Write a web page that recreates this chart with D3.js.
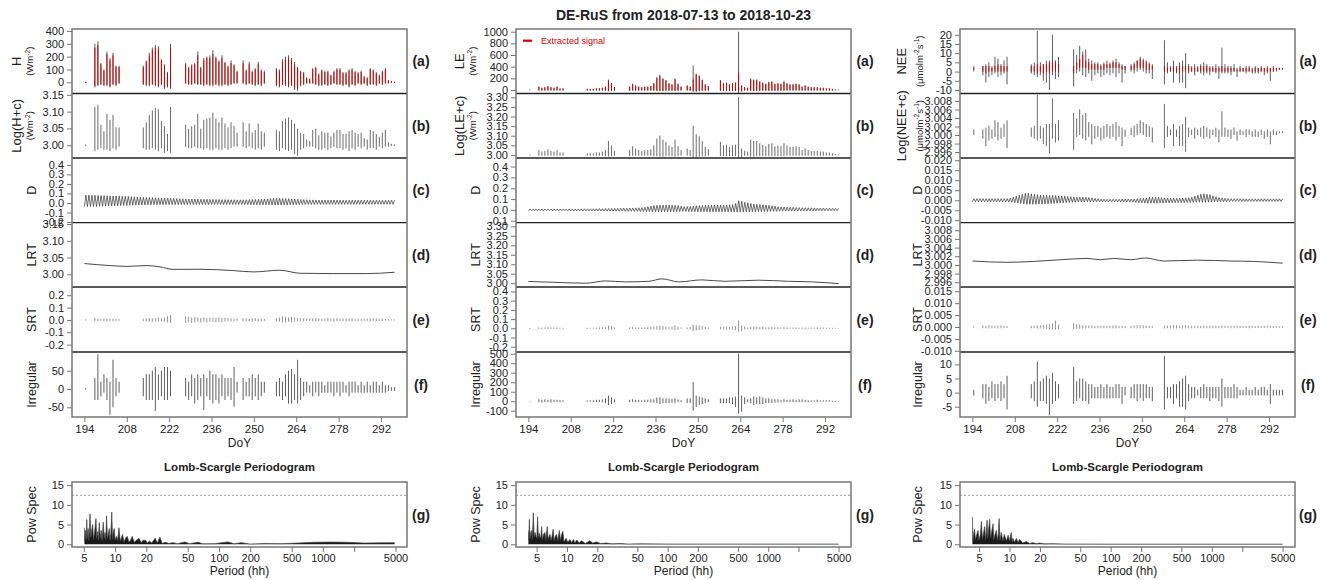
<!DOCTYPE html>
<html><head><meta charset="utf-8">
<script src="https://cdn.jsdelivr.net/npm/d3@7"></script>
<style>body{margin:0;background:#fff}svg{display:block}text{font-family:"Liberation Sans",Arial,sans-serif;fill:#222}</style>
</head><body>
<svg id="c" width="1320" height="580"></svg>
<script>
// ---------------- DATA ----------------
const dataDays=[194,
197,198,199,200,201,202,203,204,205,
213,214,215,216,217,218,219,220,221,222,
227,228,229,230,231,232,233,234,235,236,237,238,239,240,241,242,243,244,
246,247,248,249,250,251,252,253,
257,258,259,260,261,262,263,264,265,266,267,268,269,270,271,272,273,274,275,276,
277,278,279,280,281,282,283,284,285,286,287,288,289,290,291,292,293,294,295,296];
const allDays=[194,195,196,197,198,199,200,201,202,203,204,205,206,207,208,209,210,211,212,213,
214,215,216,217,218,219,220,221,222,223,224,225,226,227,228,229,230,231,232,233,
234,235,236,237,238,239,240,241,242,243,244,245,246,247,248,249,250,251,252,253,
254,255,256,257,258,259,260,261,262,263,264,265,266,267,268,269,270,271,272,273,
274,275,276,277,278,279,280,281,282,283,284,285,286,287,288,289,290,291,292,293,294,295,296];
const timeRange=[194,296.5];
const doyTicks=[194,208,222,236,250,264,278,292];
const periodTicks=[5,10,20,50,100,200,500,1000,2000,5000];
const periodLabels=["5","10","20","50","100","200","500","1000","","5000"];
const powTicks=[0,5,10,15];
const sigLevel=12.4;

// ---- H (left) ----
const H_hi=[5,
300,320,150,100,240,190,230,130,130,
130,170,230,270,290,280,180,140,80,300,
150,120,140,150,240,120,190,200,210,250,200,170,210,160,130,170,140,90,
170,100,160,90,110,160,100,90,
110,100,180,200,210,190,160,120,90,80,40,30,110,120,70,100,90,90,60,90,
110,110,80,80,100,110,90,80,90,50,40,110,100,80,60,90,110,20,10,5];
const H_lo=[-5,
-40,-30,-20,-30,-30,-40,-20,-30,-10,
-20,-30,-30,-20,-30,-40,-20,-50,-40,-50,
-10,-20,-20,-10,-20,-20,-30,-20,-30,-30,-20,-30,-30,-20,-30,-20,-10,-10,
-10,-20,-10,-20,-30,-20,-30,-10,
-30,-40,-20,-30,-40,-30,-60,-70,-30,-20,-10,-10,-10,-20,-30,-30,-20,-30,-20,-10,
-20,-20,-30,-20,-40,-20,-30,-10,-20,-10,-30,-20,-20,-30,-10,-20,-10,-10,-5,-5];
const H_sigHi=[4,
270,290,140,90,220,170,210,120,120,
120,160,210,250,270,260,170,130,70,270,
140,110,130,140,210,110,170,190,190,220,190,160,190,150,120,150,130,80,
150,90,140,80,100,140,90,80,
100,90,160,180,190,170,140,110,80,70,30,25,100,110,60,90,80,80,50,80,
100,100,70,70,90,100,80,70,80,40,30,100,90,70,50,80,100,15,8,4];
const H_sigLo=[-4,
-30,-20,-15,-20,-20,-30,-15,-20,-8,
-15,-20,-20,-15,-20,-30,-15,-40,-30,-40,
-8,-15,-15,-8,-15,-15,-20,-15,-20,-20,-15,-20,-20,-15,-20,-15,-8,-8,
-8,-15,-8,-15,-20,-15,-20,-8,
-20,-30,-15,-20,-30,-20,-40,-50,-20,-15,-8,-8,-8,-15,-20,-20,-15,-20,-15,-8,
-15,-15,-20,-15,-30,-15,-20,-8,-15,-8,-20,-15,-15,-20,-8,-15,-8,-8,-4,-4];
const H_irrHi=[2,
30,95,20,40,30,20,80,30,20,
30,40,40,50,60,40,50,60,60,50,
30,20,40,30,40,30,40,30,50,40,40,30,40,30,30,30,60,20,
30,20,30,40,30,40,20,20,
20,30,20,40,50,55,40,80,30,20,20,10,20,20,20,20,10,20,20,20,
20,20,20,10,20,20,20,10,20,10,20,10,20,20,10,20,10,10,5,5];
const H_irrLo=[-2,
-30,-30,-20,-10,-30,-70,-50,-20,-10,
-20,-30,-30,-30,-60,-30,-20,-30,-30,-20,
-20,-30,-20,-40,-30,-20,-57,-20,-30,-40,-30,-40,-20,-30,-20,-30,-48,-10,
-30,-20,-20,-30,-20,-30,-20,-10,
-20,-20,-30,-20,-40,-40,-30,-40,-30,-20,-10,-10,-20,-10,-20,-10,-10,-10,-10,-20,
-10,-20,-10,-10,-20,-10,-10,-10,-10,-10,-10,-10,-10,-10,-10,-10,-10,-5,-5,-5];
const H_srtHi=[.005,
.015,.010,.010,.012,.010,.008,.010,.008,.006,
.010,.012,.015,.012,.015,.020,.015,.020,.030,.038,
.030,.025,.020,.025,.020,.015,.020,.015,.018,.020,.015,.020,.015,.018,.015,.012,.010,.010,
.012,.015,.010,.012,.015,.010,.010,.008,
.015,.020,.030,.025,.020,.025,.020,.015,.015,.012,.010,.010,.012,.015,.012,.010,.012,.015,.010,.012,
.015,.010,.012,.010,.012,.015,.010,.012,.010,.008,.010,.012,.010,.012,.010,.012,.008,.006,.005,.004];
const H_srtLo=[-.005,
-.012,-.010,-.008,-.010,-.012,-.008,-.010,-.008,-.006,
-.010,-.010,-.012,-.015,-.012,-.015,-.012,-.015,-.020,-.025,
-.025,-.020,-.025,-.020,-.015,-.020,-.015,-.020,-.015,-.015,-.020,-.015,-.020,-.015,-.012,-.015,-.010,-.008,
-.010,-.012,-.010,-.015,-.010,-.012,-.010,-.008,
-.012,-.015,-.020,-.020,-.015,-.020,-.015,-.012,-.012,-.010,-.008,-.008,-.010,-.012,-.010,-.010,-.012,-.010,-.010,-.012,
-.010,-.008,-.010,-.010,-.010,-.012,-.010,-.010,-.008,-.008,-.008,-.010,-.008,-.010,-.008,-.010,-.006,-.005,-.004,-.004];
const H_dHi=[.083,.082,.081,.080,.079,.078,.077,.076,.075,.074,
.073,.072,.071,.070,.069,.067,.065,.063,.061,.059,
.058,.057,.056,.055,.054,.053,.052,.051,.050,.048,
.046,.045,.044,.043,.042,.041,.040,.040,.039,.038,
.038,.037,.037,.036,.036,.035,.035,.034,.034,.034,
.033,.033,.033,.034,.035,.036,.037,.038,.040,.042,
.044,.046,.047,.048,.048,.047,.046,.045,.043,.041,
.039,.037,.035,.034,.033,.032,.032,.031,.031,.031,
.031,.031,.031,.031,.030,.030,.030,.030,.030,.030,
.030,.030,.030,.030,.030,.030,.030,.030,.030,.030,.030,.030,.030];
const H_dLo=[-.038,-.038,-.037,-.037,-.036,-.035,-.034,-.033,-.032,-.031,
-.030,-.029,-.028,-.027,-.026,-.025,-.024,-.023,-.022,-.021,
-.020,-.019,-.019,-.018,-.018,-.018,-.017,-.017,-.017,-.017,
-.017,-.017,-.017,-.017,-.017,-.017,-.017,-.017,-.017,-.017,
-.017,-.017,-.016,-.016,-.016,-.016,-.016,-.016,-.016,-.016,
-.016,-.016,-.016,-.017,-.017,-.018,-.018,-.019,-.019,-.020,
-.020,-.020,-.021,-.021,-.021,-.021,-.020,-.020,-.019,-.019,
-.018,-.018,-.017,-.017,-.016,-.016,-.016,-.015,-.015,-.015,
-.015,-.015,-.015,-.015,-.015,-.015,-.015,-.015,-.015,-.015,
-.014,-.014,-.014,-.014,-.014,-.014,-.014,-.014,-.014,-.014,-.014,-.014,-.014];
const H_lrtDays=[194,202.5,208,214.6,219,223.4,232.2,243.2,249.8,258.6,265.3,276.3,287.3,296.5];
const H_lrt=[3.032,3.026,3.0235,3.026,3.022,3.0147,3.015,3.011,3.007,3.012,3.003,3.002,3.002,3.006];
const H_pgPeriod=[5.07,5.12,5.2,5.28,5.34,5.42,5.5,5.6,5.74,5.85,5.95,6.09,6.2,6.35,6.55,6.65,6.8,6.9,7.05,7.2,
7.35,7.5,7.7,7.85,8.0,8.15,8.28,8.45,8.6,8.8,8.95,9.1,9.3,9.45,9.6,9.8,10.0,10.3,10.6,10.9,
11.2,11.5,11.8,12.2,12.6,13.1,13.6,14.1,14.6,15.3,16.0,17.0,17.8,18.6,19.6,20.5,21.5,22.5,24.3,25.5,
27.0,28.5,30.4,33,36,40,47,52,63,70,90,122,140,164,200,272,400,570,820,1200,1700,2500,3540,4900];
const H_pgPow=[4.2,0.8,3.5,1.2,6.3,1.5,4.0,1.0,7.7,1.8,3.5,5.0,1.2,3.0,6.5,1.5,3.2,1.0,5.5,1.5,
3.5,1.0,5.6,1.6,3.0,1.2,7.2,1.5,2.5,4.0,1.0,2.5,8.2,1.2,3.0,4.0,1.0,2.0,1.0,4.2,
0.8,1.6,2.5,0.6,1.5,2.0,0.6,1.0,2.0,0.5,1.0,1.5,0.4,1.0,1.0,0.3,0.8,0.3,1.5,0.3,
1.8,0.2,0.5,0.2,0.4,0.15,0.6,0.15,0.5,0.1,0.15,0.6,0.1,0.4,0.05,0.2,0.15,0.3,0.5,0.55,0.5,0.3,0.35,0.4];

// ---- LE (middle) ----
const LE_hi=[5,
60,40,50,70,50,40,60,30,30,
20,20,20,30,30,40,60,180,120,50,
60,110,80,60,50,60,60,70,120,220,260,200,170,120,100,200,110,60,
80,60,420,280,250,180,100,70,
170,120,130,100,120,130,1000,80,50,40,200,180,180,150,130,110,140,150,110,120,
110,150,120,100,100,110,100,60,80,60,50,50,50,40,40,30,30,20,10,5];
const LE_lo=[-5,
-10,-10,-10,-10,-10,-10,-10,-10,-10,
-10,-10,-10,-10,-10,-10,-15,-20,-15,-10,
-15,-10,-10,-10,-10,-10,-10,-10,-15,-15,-20,-20,-15,-15,-15,-20,-15,-10,
-10,-15,-30,-30,-20,-15,-15,-10,
-15,-15,-15,-15,-15,-15,-60,-30,-10,-10,-20,-20,-15,-15,-15,-15,-15,-15,-15,-15,
-15,-15,-10,-10,-10,-10,-10,-10,-10,-10,-10,-10,-10,-10,-10,-10,-10,-10,-5,-5];
const LE_sigHi=[4,
55,35,45,65,45,35,55,25,25,
18,18,18,28,28,38,55,160,110,45,
55,100,75,55,45,55,55,65,110,200,240,190,160,110,90,180,100,55,
75,55,180,270,240,170,90,65,
160,110,120,90,110,120,300,75,45,35,180,170,170,140,120,100,130,140,100,110,
100,140,110,90,90,100,90,55,75,55,45,45,45,35,35,25,25,18,8,4];
const LE_sigLo=[-4,
-8,-8,-8,-8,-8,-8,-8,-8,-8,
-8,-8,-8,-8,-8,-8,-10,-15,-10,-8,
-10,-8,-8,-8,-8,-8,-8,-8,-10,-10,-15,-15,-10,-10,-10,-15,-10,-8,
-8,-10,-20,-20,-15,-10,-10,-8,
-10,-10,-10,-10,-10,-10,-30,-20,-8,-8,-15,-15,-10,-10,-10,-10,-10,-10,-10,-10,
-10,-10,-8,-8,-8,-8,-8,-8,-8,-8,-8,-8,-8,-8,-8,-8,-8,-8,-4,-4];
const LE_irrHi=[2,
20,15,20,15,20,15,15,10,10,
10,10,10,15,15,20,30,60,40,20,
15,20,15,15,10,15,15,20,20,40,40,30,30,30,25,30,20,10,
30,30,200,60,50,40,30,20,
30,30,30,40,40,50,500,60,40,20,30,50,40,50,40,30,30,20,20,20,
15,20,15,15,20,15,20,20,15,10,10,10,15,10,10,10,10,5,5,2];
const LE_irrLo=[-2,
-10,-15,-10,-10,-15,-10,-10,-10,-5,
-5,-5,-10,-10,-10,-10,-20,-40,-30,-10,
-10,-10,-10,-10,-10,-10,-10,-15,-15,-20,-30,-20,-20,-20,-15,-20,-10,-10,
-20,-20,-100,-60,-40,-30,-20,-10,
-20,-20,-20,-20,-30,-60,-130,-110,-30,-10,-20,-40,-30,-30,-30,-20,-20,-20,-15,-15,
-10,-10,-10,-10,-10,-10,-10,-10,-10,-10,-5,-5,-10,-5,-5,-5,-5,-5,-5,-2];
const LE_srtHi=[.005,
.010,.008,.010,.012,.010,.008,.010,.006,.005,
.006,.006,.008,.008,.010,.012,.015,.030,.025,.010,
.008,.012,.010,.010,.008,.010,.012,.015,.020,.025,.030,.025,.020,.015,.020,.030,.020,.010,
.010,.015,.040,.035,.030,.025,.015,.010,
.015,.015,.020,.015,.020,.025,.085,.030,.020,.010,.015,.020,.020,.015,.015,.010,.012,.015,.010,.012,
.010,.012,.010,.008,.010,.010,.008,.008,.010,.008,.008,.008,.010,.008,.008,.006,.006,.005,.004,.003];
const LE_srtLo=[-.005,
-.008,-.008,-.006,-.008,-.008,-.006,-.008,-.005,-.005,
-.005,-.005,-.006,-.006,-.008,-.008,-.010,-.020,-.015,-.008,
-.008,-.010,-.008,-.008,-.008,-.008,-.010,-.010,-.012,-.015,-.020,-.015,-.015,-.012,-.015,-.020,-.015,-.008,
-.010,-.012,-.030,-.025,-.020,-.015,-.012,-.008,
-.012,-.012,-.015,-.012,-.015,-.020,-.035,-.030,-.015,-.008,-.012,-.015,-.015,-.012,-.012,-.008,-.010,-.012,-.008,-.010,
-.008,-.010,-.008,-.006,-.008,-.008,-.006,-.006,-.008,-.006,-.006,-.006,-.008,-.006,-.006,-.005,-.005,-.004,-.003,-.003];
const LE_dHi=[.008,.008,.008,.008,.008,.008,.008,.008,.008,.008,
.008,.008,.008,.009,.009,.009,.009,.010,.010,.010,
.010,.011,.011,.012,.012,.013,.013,.014,.014,.015,
.015,.016,.016,.017,.018,.019,.020,.022,.025,.030,
.035,.040,.042,.044,.045,.045,.045,.044,.042,.040,
.035,.030,.030,.032,.035,.038,.040,.042,.043,.044,
.045,.045,.045,.045,.045,.046,.047,.050,.060,.085,
.080,.070,.065,.060,.055,.052,.050,.048,.045,.042,
.040,.035,.030,.028,.026,.025,.024,.023,.022,.021,
.020,.020,.019,.019,.018,.018,.017,.017,.016,.016,.015,.015,.015];
const LE_dLo=[-.008,-.008,-.008,-.008,-.008,-.008,-.008,-.008,-.008,-.008,
-.008,-.008,-.008,-.008,-.008,-.009,-.009,-.009,-.009,-.009,
-.009,-.010,-.010,-.010,-.010,-.010,-.011,-.011,-.011,-.012,
-.012,-.012,-.013,-.013,-.013,-.014,-.014,-.015,-.015,-.016,
-.016,-.017,-.017,-.018,-.018,-.018,-.018,-.018,-.017,-.016,
-.015,-.014,-.014,-.015,-.016,-.016,-.017,-.017,-.017,-.018,
-.018,-.018,-.018,-.018,-.018,-.018,-.018,-.018,-.019,-.020,
-.020,-.019,-.018,-.018,-.017,-.017,-.016,-.016,-.015,-.015,
-.014,-.014,-.013,-.013,-.012,-.012,-.012,-.011,-.011,-.011,
-.010,-.010,-.010,-.010,-.010,-.009,-.009,-.009,-.009,-.009,-.008,-.008,-.008];
const LE_lrtDays=[194,201.9,212.9,219.5,226.1,233.8,238.2,243.7,251.3,259,270,279.9,287.6,296.5];
const LE_lrt=[3.009,3.005,3.000,3.012,3.007,3.010,3.023,3.007,3.0175,3.010,3.016,3.010,3.007,2.998];
const LE_pgPeriod=[4.14,4.18,4.23,4.3,4.38,4.46,4.53,4.63,4.72,4.82,4.92,5.02,5.11,5.2,5.3,5.39,5.5,5.6,5.7,5.85,
6.04,6.15,6.37,6.5,6.65,6.78,6.95,7.1,7.3,7.45,7.65,7.9,8.1,8.4,8.6,8.85,9.1,9.35,9.8,10.2,
10.7,11.1,11.6,12.0,12.5,13.2,14.0,15.2,16.9,18.0,19.7,21.5,24.7,28,33.5,40,53,100,500,5000];
const LE_pgPow=[3.5,1.0,6.3,1.5,3.0,3.5,1.2,8.0,1.8,3.0,2.0,1.5,7.0,1.5,2.8,2.0,1.5,4.5,1.2,2.5,
3.0,1.0,4.5,1.2,2.0,2.5,1.0,2.0,3.8,0.8,2.0,2.5,0.8,3.5,1.0,2.5,3.3,0.6,1.5,0.5,
1.2,0.4,1.2,0.3,1.1,0.3,0.9,0.2,0.9,0.3,0.6,0.2,0.3,0.1,0.2,0.05,0.1,0.05,0.05,0.05];

// ---- NEE (right) ----
const NEE_hi=[3,
3,4,5,3,8,7,4,6,8,
4,5,22,5,4,6,6,20,6,8,
12,9,14,11,12,7,6,5,5,4,5,6,5,6,7,5,4,3,
4,5,6,8,7,6,5,4,
17,5,3,6,3,5,6,10,4,3,4,3,4,5,4,3,3,4,3,13,
4,3,3,4,2,3,2,3,3,2,3,2,3,2,3,2,3,2,2,2];
const NEE_lo=[0,
-2,-6,-3,-2,-1,-3,-2,-1,-7,
-1,-2,-3,-2,-5,-6,-10,-2,-4,-3,
-8,-1,0,-2,-3,-1,-5,-2,-1,-3,-2,-1,-2,-1,-3,-1,-6,-1,
0,-1,0,1,0,-1,-1,-4,
-7,-1,0,-6,-1,-6,-6,-9,-1,0,-2,0,-1,-2,-1,-2,0,-1,-4,-1,
-1,-1,-2,0,-3,0,0,-1,0,-1,-1,-1,0,-2,-1,-5,0,0,1,1];
const NEE_sigHi=[2,
3,3,3,2,3,4,3,3,3,
3,3,4,3,4,4,5,6,5,4,
3,5,7,9,6,5,4,4,4,3,4,4,4,5,5,4,3,3,
3,4,6,7,6,5,4,3,
3,2,2,3,2,3,3,3,3,2,2,2,3,3,3,2,2,2,2,3,
2,2,2,2,1,2,2,2,2,1,2,2,2,2,2,2,2,2,2,2];
const NEE_sigLo=[1,
0,-1,0,0,0,0,0,0,0,
0,0,-1,0,-1,0,-1,0,0,0,
-1,1,2,2,2,1,1,1,1,1,1,2,2,2,2,2,1,1,
1,1,2,2,2,1,1,1,
0,0,0,0,0,-1,0,0,0,0,0,0,0,0,0,0,0,0,0,0,
0,0,0,0,0,0,0,0,0,0,0,0,0,0,0,0,0,1,1,1];
const NEE_irrHi=[1,
3,3,2,4,3,3,4,3,6,
3,4,11,4,5,6,5,7,4,3,
9,4,5,5,4,3,3,2,2,3,2,3,2,2,3,3,2,2,
2,3,3,3,3,3,2,2,
13,2,2,3,3,4,5,6,3,2,2,1,2,3,2,2,2,2,2,5,
2,2,2,3,2,1,1,2,1,1,2,1,2,2,1,3,1,1,1,1];
const NEE_irrLo=[-1,
-2,-4,-3,-2,-3,-2,-3,-2,-6,
-2,-3,-5,-3,-3,-4,-8,-4,-3,-2,
-4,-3,-2,-3,-3,-4,-2,-2,-2,-2,-2,-2,-2,-2,-2,-2,-4,-1,
-2,-2,-3,-2,-3,-2,-2,-3,
-6,-2,-2,-4,-2,-5,-5,-6,-3,-2,-2,-1,-2,-2,-2,-3,-2,-2,-3,-5,
-2,-2,-2,-2,-2,-1,-1,-1,-1,-1,-1,-1,-1,-1,-1,-4,-1,-1,-1,-1];
const NEE_srtHi=[.0003,
.0006,.0005,.0007,.0006,.0005,.0006,.0007,.0005,.0004,
.0005,.0006,.0008,.0007,.0008,.0010,.0012,.0015,.0027,.0010,
.0016,.0012,.0010,.0008,.0007,.0006,.0006,.0005,.0006,.0005,.0006,.0005,.0006,.0007,.0008,.0006,.0005,.0004,
.0005,.0006,.0008,.0008,.0007,.0006,.0005,.0004,
.0006,.0005,.0007,.0008,.0007,.0006,.0007,.0008,.0006,.0005,.0005,.0006,.0005,.0006,.0005,.0006,.0006,.0005,.0005,.0006,
.0005,.0004,.0005,.0005,.0006,.0005,.0004,.0005,.0006,.0005,.0004,.0005,.0004,.0005,.0006,.0005,.0004,.0004,.0003,.0003];
const NEE_srtLo=[-.0003,
-.0005,-.0005,-.0006,-.0005,-.0005,-.0006,-.0005,-.0005,-.0004,
-.0005,-.0005,-.0006,-.0006,-.0007,-.0008,-.0009,-.0010,-.0012,-.0008,
-.0010,-.0008,-.0008,-.0007,-.0006,-.0005,-.0005,-.0005,-.0005,-.0005,-.0005,-.0005,-.0005,-.0006,-.0006,-.0005,-.0005,-.0004,
-.0005,-.0005,-.0006,-.0006,-.0006,-.0005,-.0005,-.0004,
-.0006,-.0005,-.0006,-.0006,-.0006,-.0005,-.0006,-.0006,-.0005,-.0005,-.0005,-.0005,-.0005,-.0005,-.0005,-.0005,-.0005,-.0005,-.0005,-.0005,
-.0004,-.0004,-.0005,-.0005,-.0005,-.0005,-.0004,-.0004,-.0005,-.0004,-.0004,-.0004,-.0004,-.0004,-.0005,-.0004,-.0004,-.0003,-.0003,-.0003];
const NEE_dHi=[.0008,.0008,.0008,.0008,.0008,.0008,.0008,.0008,.0008,.0008,
.0008,.0008,.0010,.0015,.0020,.0025,.0030,.0035,.0035,.0032,
.0030,.0028,.0026,.0025,.0025,.0024,.0024,.0023,.0022,.0021,
.0020,.0019,.0018,.0017,.0016,.0016,.0015,.0015,.0014,.0012,
.0010,.0008,.0006,.0005,.0005,.0005,.0005,.0005,.0005,.0006,
.0006,.0006,.0006,.0007,.0008,.0009,.0010,.0012,.0015,.0016,
.0016,.0015,.0013,.0012,.0011,.0010,.0010,.0010,.0010,.0011,
.0012,.0013,.0015,.0020,.0025,.0030,.0032,.0030,.0028,.0022,
.0018,.0014,.0012,.0010,.0009,.0008,.0008,.0008,.0008,.0008,
.0007,.0007,.0007,.0007,.0007,.0007,.0007,.0007,.0007,.0007,.0007,.0007,.0007];
const NEE_dLo=[-.0008,-.0008,-.0008,-.0008,-.0008,-.0008,-.0008,-.0008,-.0008,-.0008,
-.0008,-.0008,-.0009,-.0010,-.0012,-.0014,-.0016,-.0018,-.0020,-.0020,
-.0020,-.0020,-.0019,-.0019,-.0018,-.0018,-.0017,-.0016,-.0015,-.0014,
-.0013,-.0012,-.0011,-.0010,-.0010,-.0009,-.0009,-.0008,-.0008,-.0008,
-.0008,-.0008,-.0008,-.0008,-.0008,-.0008,-.0008,-.0008,-.0008,-.0008,
-.0008,-.0008,-.0009,-.0010,-.0011,-.0012,-.0013,-.0014,-.0015,-.0015,
-.0015,-.0015,-.0014,-.0014,-.0013,-.0013,-.0012,-.0012,-.0012,-.0012,
-.0012,-.0012,-.0011,-.0011,-.0010,-.0010,-.0010,-.0010,-.0009,-.0009,
-.0008,-.0008,-.0007,-.0007,-.0007,-.0006,-.0006,-.0006,-.0006,-.0006,
-.0006,-.0006,-.0006,-.0006,-.0006,-.0006,-.0006,-.0006,-.0006,-.0006,-.0006,-.0006,-.0006];
const NEE_lrtDays=[194,205.3,214.2,223,231.9,236.3,240.7,246.3,251.3,257.3,268.4,279.5,287.2,296.5];
const NEE_lrt=[3.0009,3.0006,3.0008,3.0012,3.0015,3.0012,3.0015,3.0012,3.0016,3.0009,3.0011,3.0009,3.0008,3.0004];
const NEE_pgPeriod=[4.3,4.36,4.45,4.52,4.6,4.75,4.89,5.0,5.15,5.27,5.4,5.55,5.69,5.8,5.9,6.0,6.1,6.2,6.37,6.5,
6.65,6.88,7.0,7.2,7.4,7.6,7.75,7.9,8.05,8.3,8.6,8.9,9.3,9.7,10.0,10.4,10.6,10.8,11.2,11.7,
12.1,12.6,13.5,14.7,15.8,17.1,18.5,19.8,22,26.9,35,49,100,1000,5000];
const NEE_pgPow=[6.9,1.0,3.0,3.8,1.2,2.5,3.5,1.0,2.5,5.8,1.2,3.0,4.5,1.0,3.0,6.1,1.5,3.5,6.3,1.5,
3.0,5.2,1.2,2.5,3.5,1.0,2.5,6.5,1.0,3.0,0.8,2.5,0.8,2.3,0.8,3.0,0.6,1.5,0.5,1.5,
0.4,1.2,0.3,0.7,0.2,0.4,0.1,0.3,0.1,0.15,0.05,0.05,0.03,0.03,0.03];

// ---------------- RENDER ----------------
const loc=d3.formatLocale({decimal:".",thousands:",",grouping:[3],currency:["",""],minus:"-"});
const svg=d3.select("#c");
const rowTops=[29,93.5,158,222.7,287,352,417];
const pgTop=482,pgBot=547;
const log1000=v=>Math.log10(v+1000);

const cols=[
 {key:"L",x0:72,x1:407,letterX:421,bigX:16.7,unitX:29.3,oneX:32,
  big:["H","Log(H+c)"],unit:[["(Wm","-2",")"],["(Wm","-2",")"]],
  hi:H_hi,lo:H_lo,sHi:H_sigHi,sLo:H_sigLo,iHi:H_irrHi,iLo:H_irrLo,rHi:H_srtHi,rLo:H_srtLo,dHi:H_dHi,dLo:H_dLo,
  lrtD:H_lrtDays,lrt:H_lrt,pgP:H_pgPeriod,pgV:H_pgPow,
  rows:[{dom:[-87,415],ticks:[0,100,200,300,400],f:".0f"},
        {dom:[2.962,3.154],ticks:[3.00,3.05,3.10,3.15],f:".2f"},
        {dom:[-0.207,0.472],ticks:[-0.2,-0.1,0,0.1,0.2,0.3,0.4],f:".1f"},
        {dom:[2.962,3.154],ticks:[3.00,3.05,3.10,3.15],f:".2f"},
        {dom:[-0.26,0.267],ticks:[-0.2,-0.1,0,0.1,0.2],f:".1f"},
        {dom:[-76.5,101],ticks:[-50,0,50],f:".0f"}]},
 {key:"M",x0:516,x1:851,letterX:865,bigX:459,unitX:472,oneX:476,legend:true,
  big:["LE","Log(LE+c)"],unit:[["(Wm","-2",")"],["(Wm","-2",")"]],
  hi:LE_hi,lo:LE_lo,sHi:LE_sigHi,sLo:LE_sigLo,iHi:LE_irrHi,iLo:LE_irrLo,rHi:LE_srtHi,rLo:LE_srtLo,dHi:LE_dHi,dLo:LE_dLo,
  lrtD:LE_lrtDays,lrt:LE_lrt,pgP:LE_pgPeriod,pgV:LE_pgPow,
  rows:[{dom:[-60,1046],ticks:[0,200,400,600,800,1000],f:".0f"},
        {dom:[2.984,3.32],ticks:[3.00,3.05,3.10,3.15,3.20,3.25,3.30],f:".2f"},
        {dom:[-0.118,0.479],ticks:[-0.1,0,0.1,0.2,0.3,0.4],f:".1f"},
        {dom:[2.98,3.319],ticks:[3.00,3.05,3.10,3.15,3.20,3.25,3.30],f:".2f"},
        {dom:[-0.257,0.448],ticks:[-0.2,-0.1,0,0.1,0.2,0.3,0.4],f:".1f"},
        {dom:[-166,518],ticks:[-100,0,100,200,300,400,500],f:".0f"}]},
 {key:"R",x0:960,x1:1295,letterX:1308,bigX:901,unitX:918.5,oneX:918,
  big:["NEE","Log(NEE+c)"],unit:[["(\u03bcmolm","-2","s","-1",")"],["(\u03bcmolm","-2","s","-1",")"]],
  hi:NEE_hi,lo:NEE_lo,sHi:NEE_sigHi,sLo:NEE_sigLo,iHi:NEE_irrHi,iLo:NEE_irrLo,rHi:NEE_srtHi,rLo:NEE_srtLo,dHi:NEE_dHi,dLo:NEE_dLo,
  lrtD:NEE_lrtDays,lrt:NEE_lrt,pgP:NEE_pgPeriod,pgV:NEE_pgPow,
  rows:[{dom:[-11.9,23.1],ticks:[-10,-5,0,5,10,15,20],f:".0f"},
        {dom:[2.9946,3.00976],ticks:[2.996,2.998,3.000,3.002,3.004,3.006,3.008],f:".3f"},
        {dom:[-0.0112,0.0211],ticks:[-0.010,-0.005,0,0.005,0.010,0.015,0.020],f:".3f"},
        {dom:[2.9949,3.00975],ticks:[2.996,2.998,3.000,3.002,3.004,3.006,3.008],f:".3f"},
        {dom:[-0.0105,0.0168],ticks:[-0.010,-0.005,0,0.005,0.010,0.015],f:".3f"},
        {dom:[-8.65,14.4],ticks:[-5,0,5,10],f:".0f"}]}
];

cols.forEach(c=>{["hi","lo","sHi","sLo","iHi","iLo","rHi","rLo"].forEach(k=>{if(c[k].length!==dataDays.length)throw new Error(c.key+" "+k+" len "+c[k].length);});
 ["dHi","dLo"].forEach(k=>{if(c[k].length!==allDays.length)throw new Error(c.key+" "+k+" len "+c[k].length);});
 if(c.pgP.length!==c.pgV.length)throw new Error(c.key+" pg len");if(c.lrtD.length!==c.lrt.length)throw new Error(c.key+" lrt");});

function vText(x,y,parts,size,weight){
  const t=svg.append("text").attr("transform",`translate(${x},${y}) rotate(-90)`)
    .attr("text-anchor","middle").attr("dominant-baseline","central")
    .style("font-size",size+"px").style("font-weight",weight||"normal");
  if(typeof parts==="string"){t.text(parts);return t;}
  parts.forEach((p,i)=>{
    const sup=i%2===1;
    t.append("tspan").text(p).style("font-size",sup?(size*0.7)+"px":null)
      .attr("dy",sup?"-0.4em":(i>0?"0.28em":null));
  });
  return t;
}
function styleAxis(g,fs){
  g.select(".domain").remove();
  g.selectAll(".tick line").attr("stroke","#777");
  g.selectAll(".tick text").style("font-size",fs+"px").attr("fill","#222").style("font-family",'"Liberation Sans",Arial,sans-serif');
}
function vlines(g,days,lo,hi,xs,ys,color,w,off){
  g.append("g").selectAll("line").data(days.map((d,i)=>({d,lo:lo[i],hi:hi[i]}))).join("line")
    .attr("x1",d=>xs(d.d+off)).attr("x2",d=>xs(d.d+off))
    .attr("y1",d=>ys(d.lo)).attr("y2",d=>ys(d.hi))
    .attr("stroke",color).attr("stroke-width",w);
}

cols.forEach(c=>{
  const span=timeRange[1]-timeRange[0];
  const xs=d3.scaleLinear().domain([timeRange[0]-0.04*span,timeRange[1]+0.04*span]).range([c.x0,c.x1]);
  const W=c.x1-c.x0;
  c.rows.forEach((r,i)=>{
    const top=rowTops[i],bot=rowTops[i+1];
    const ys=d3.scaleLinear().domain(r.dom).range([bot,top]);
    const id="clip"+c.key+i;
    svg.append("clipPath").attr("id",id).append("rect").attr("x",c.x0).attr("y",top).attr("width",W).attr("height",bot-top);
    const ax=svg.append("g").attr("transform",`translate(${c.x0},0)`)
      .call(d3.axisLeft(ys).tickValues(r.ticks).tickFormat(loc.format(r.f)).tickSize(5).tickPadding(3));
    styleAxis(ax,11);
    const g=svg.append("g").attr("clip-path",`url(#${id})`);
    if(i===0){
      vlines(g,dataDays,c.lo,c.hi,xs,ys,"#333",0.8,0.45);
      vlines(g,dataDays,c.sLo,c.sHi,xs,ys,"#d40000",1.0,0.45);
    }else if(i===1){
      vlines(g,dataDays,c.lo.map(log1000),c.hi.map(log1000),xs,ys,"#444",0.8,0.45);
    }else if(i===2){
      const pts=[];
      allDays.forEach((d,k)=>{pts.push([d,c.dLo[k]]);pts.push([d+0.5,c.dHi[k]]);});
      g.append("path").attr("d",d3.line().x(p=>xs(p[0])).y(p=>ys(p[1]))(pts))
        .attr("fill","none").attr("stroke","#333").attr("stroke-width",0.7);
    }else if(i===3){
      g.append("path").attr("d",d3.line().curve(d3.curveMonotoneX).x(d=>xs(d)).y((d,k)=>ys(c.lrt[k]))(c.lrtD))
        .attr("fill","none").attr("stroke","#333").attr("stroke-width",0.9);
    }else if(i===4){
      vlines(g,dataDays,c.rLo,c.rHi,xs,ys,"#666",0.7,0.45);
    }else{
      vlines(g,dataDays,c.iLo,c.iHi,xs,ys,"#333",0.8,0.45);
    }
    svg.append("text").attr("x",c.letterX).attr("y",(top+bot)/2).attr("text-anchor","middle")
      .attr("dominant-baseline","central").style("font-size","14px").style("font-weight","bold").text("("+"abcdef"[i]+")");
    if(i<2){
      vText(c.bigX,(top+bot)/2,c.big[i],13);
      vText(c.unitX,(top+bot)/2,c.unit[i],9.5);
    }else{
      vText(c.oneX,(top+bot)/2,["D","LRT","SRT","Irregular"][i-2],12.5);
    }
  });
  const fr=svg.append("g");
  rowTops.slice(1,6).forEach(y=>fr.append("line").attr("x1",c.x0).attr("x2",c.x1).attr("y1",y).attr("y2",y).attr("stroke","#222").attr("stroke-width",1.3));
  fr.append("rect").attr("x",c.x0).attr("y",rowTops[0]).attr("width",W).attr("height",rowTops[6]-rowTops[0])
    .attr("fill","none").attr("stroke","#777").attr("stroke-width",1.5);
  const xa=svg.append("g").attr("transform",`translate(0,${rowTops[6]})`)
    .call(d3.axisBottom(xs).tickValues(doyTicks).tickFormat(d3.format("d")).tickSize(5).tickPadding(3));
  styleAxis(xa,11.5);
  svg.append("text").attr("x",(c.x0+c.x1)/2).attr("y",447).attr("text-anchor","middle").style("font-size","12px").text("DoY");

  if(c.legend){
    svg.append("line").attr("x1",c.x0+7).attr("x2",c.x0+16).attr("y1",40.7).attr("y2",40.7).attr("stroke","#d40000").attr("stroke-width",2.2);
    svg.append("text").attr("x",c.x0+25).attr("y",44).style("font-size","9px").style("fill","#d40000").text("Extracted signal");
  }

  svg.append("text").attr("x",(c.x0+c.x1)/2).attr("y",471).attr("text-anchor","middle")
    .style("font-size","11.5px").style("font-weight","bold").text("Lomb-Scargle Periodogram");
  const ext=d3.extent(c.pgP).map(Math.log10);const ls=ext[1]-ext[0];
  const px=d3.scaleLog().domain([10**(ext[0]-0.04*ls),10**(ext[1]+0.04*ls)]).range([c.x0,c.x1]);
  const py=d3.scaleLinear().domain([-0.7,15.8]).range([pgBot,pgTop]);
  const pid="clipP"+c.key;
  svg.append("clipPath").attr("id",pid).append("rect").attr("x",c.x0).attr("y",pgTop).attr("width",W).attr("height",pgBot-pgTop);
  const pg=svg.append("g").attr("clip-path",`url(#${pid})`);
  const pairs=c.pgP.map((p,k)=>[p,c.pgV[k]]);
  pg.append("path").attr("d",d3.area().x(d=>px(d[0])).y0(py(0)).y1(d=>py(d[1]))(pairs)).attr("fill","#1a1a1a");
  pg.append("path").attr("d",d3.line().x(d=>px(d[0])).y(d=>py(d[1]))(pairs)).attr("fill","none").attr("stroke","#444").attr("stroke-width",0.7);
  pg.append("line").attr("x1",c.x0).attr("x2",c.x1).attr("y1",py(sigLevel)).attr("y2",py(sigLevel))
    .attr("stroke","#aaa").attr("stroke-width",1.2).attr("stroke-dasharray","2,2");
  svg.append("rect").attr("x",c.x0).attr("y",pgTop).attr("width",W).attr("height",pgBot-pgTop).attr("fill","none").attr("stroke","#777").attr("stroke-width",1.5);
  const pya=svg.append("g").attr("transform",`translate(${c.x0},0)`)
    .call(d3.axisLeft(py).tickValues(powTicks).tickFormat(d3.format("d")).tickSize(5).tickPadding(3));
  styleAxis(pya,11);
  const pxa=svg.append("g").attr("transform",`translate(0,${pgBot})`)
    .call(d3.axisBottom(px).tickValues(periodTicks).tickFormat((d,k)=>periodLabels[k]).tickSize(5).tickPadding(2));
  styleAxis(pxa,11);
  vText(c.oneX,(pgTop+pgBot)/2,"Pow Spec",12.5);
  svg.append("text").attr("x",(c.x0+c.x1)/2).attr("y",575).attr("text-anchor","middle").style("font-size","12px").text("Period (hh)");
  svg.append("text").attr("x",c.letterX).attr("y",(pgTop+pgBot)/2).attr("text-anchor","middle")
    .attr("dominant-baseline","central").style("font-size","14px").style("font-weight","bold").text("(g)");
});

svg.append("text").attr("x",683.5).attr("y",20).attr("text-anchor","middle")
  .style("font-size","14px").style("font-weight","bold").text("DE-RuS from 2018-07-13 to 2018-10-23");
</script>
</body></html>
